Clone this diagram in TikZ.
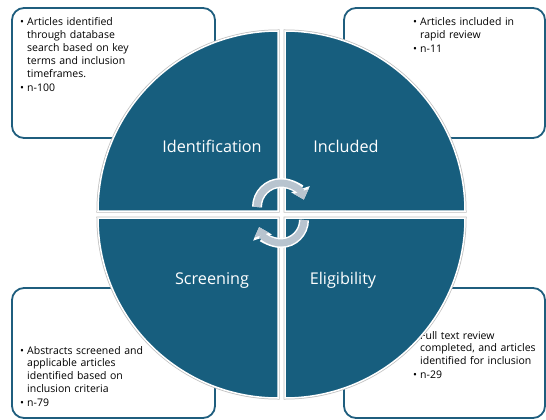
\documentclass[tikz,border=0pt]{standalone}
\usepackage{fontspec}
\setmainfont{Open Sans}
\usetikzlibrary{arrows.meta}
\definecolor{quadc}{RGB}{23,94,126}
\definecolor{boxc}{RGB}{31,94,126}
\definecolor{arrc}{RGB}{184,196,207}
\newcommand{\bitem}[1]{\par\noindent\hangindent=7pt\hangafter=1\makebox[7pt][l]{\textbullet}#1\par\vskip1.2pt}
\begin{document}
\begin{tikzpicture}[x=1pt,y=-1pt,
  box/.style={draw=boxc, line width=1.8pt, fill=white, rounded corners=12pt, inner sep=0},
  txt/.style={anchor=north west, inner sep=0, text width=135pt, font=\fontsize{10.5}{12.8}\selectfont},
  quad/.style={fill=quadc, preaction={draw=black!25, line width=3pt}, draw=white, line width=1.5pt},
  lab/.style={text=white, font=\fontsize{16.2}{19}\selectfont, inner sep=0},
  arr/.style={preaction={draw=white, line width=10pt, -{Triangle[width=19pt,length=11pt]}},
              draw=arrc, line width=7pt, -{Triangle[width=15pt,length=8.5pt]}}]
\useasboundingbox (0,0) rectangle (546,420);
\fill[white] (0,0) rectangle (546,420);
% boxes
\node[box, minimum width=203pt, minimum height=130pt] (b1) at (113.5,73) {};
\node[box, minimum width=201pt, minimum height=130pt] (b2) at (444.5,73) {};
\node[box, minimum width=203pt, minimum height=130pt] (b3) at (113.5,353) {};
\node[box, minimum width=201pt, minimum height=130pt] (b4) at (444.5,353) {};
% box texts
\node[txt] (t1) at (20,13) {\bitem{Articles identified\newline through database\newline search based on key\newline terms and inclusion\newline timeframes.}\bitem{n-100}};
\node[txt] (t2) at (413,13) {\bitem{Articles included in\newline rapid review}\bitem{n-11}};
\node[txt] (t3) at (20,341) {\bitem{Abstracts screened and\newline applicable articles\newline identified based on\newline inclusion criteria}\bitem{n-79}};
\node[txt] (t4) at (413,326) {\bitem{Full text review\newline completed, and articles\newline identified for inclusion}\bitem{n-29}};
% quadrants
\draw[quad] (278,211) -- (98,211) arc[start angle=180, end angle=270, radius=180] -- cycle;
\draw[quad] (285,211) -- (285,31) arc[start angle=270, end angle=360, radius=180] -- cycle;
\draw[quad] (278,218) -- (98,218) arc[start angle=180, end angle=90, radius=180] -- cycle;
\draw[quad] (285,218) -- (465,218) arc[start angle=0, end angle=90, radius=180] -- cycle;
% labels
\node[lab] (lid) at (212,146) {Identification};
\node[lab] (lin) at (346,146) {Included};
\node[lab] (lsc) at (212,280) {Screening};
\node[lab] (lel) at (343,280) {Eligibility};
% cycle arrows
\coordinate (act) at (281,207);
\coordinate (acb) at (281,220);
\draw[arr] ([shift={(180:24)}]act) arc[start angle=180, end angle=342, radius=24];
\draw[arr] ([shift={(0:23)}]acb) arc[start angle=0, end angle=162, radius=23];
\end{tikzpicture}
\end{document}
